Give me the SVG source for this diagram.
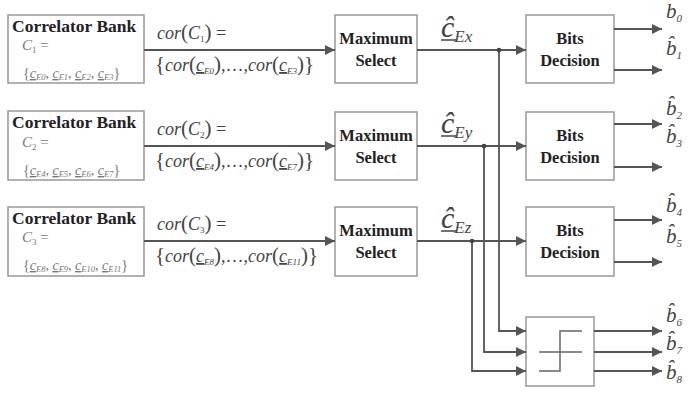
<svg xmlns="http://www.w3.org/2000/svg" width="690" height="406" viewBox="0 0 690 406">
<defs>
<style>
.box{fill:#fff;stroke:#999;stroke-width:1.5}
.ln{fill:none;stroke:#555;stroke-width:1.8}
text{font-family:'Liberation Serif','Times New Roman',serif}
.bold{font-weight:bold;fill:#222;font-size:16.5px}
.cb{font-size:17.5px}
.gray{fill:#777}
.it{font-style:italic}
.lbl{font-style:italic;fill:#444}
.dot{fill:#444}
</style>
<marker id="ah" viewBox="0 0 10 10" refX="10" refY="5" markerWidth="10" markerHeight="10" markerUnits="userSpaceOnUse" orient="auto">
<path d="M0,0 L10,5 L0,10 z" fill="#555"/>
</marker>
</defs>
<rect width="690" height="406" fill="#fff"/>

<g id="correlator1">
<rect class="box" x="8" y="15" width="136" height="68"/>
<text class="bold cb" x="12" y="32">Correlator Bank</text>
<text class="gray" x="22" y="50" font-size="15"><tspan class="it">C</tspan><tspan font-size="9" dy="3">1</tspan><tspan dy="-3"> =</tspan></text>
<text class="gray" x="23" y="78" font-size="14">{<tspan class="it" text-decoration="underline">c</tspan><tspan class="it" font-size="8.5" dy="2">E0</tspan><tspan dy="-2">, </tspan><tspan class="it" text-decoration="underline">c</tspan><tspan class="it" font-size="8.5" dy="2">E1</tspan><tspan dy="-2">, </tspan><tspan class="it" text-decoration="underline">c</tspan><tspan class="it" font-size="8.5" dy="2">E2</tspan><tspan dy="-2">, </tspan><tspan class="it" text-decoration="underline">c</tspan><tspan class="it" font-size="8.5" dy="2">E3</tspan><tspan dy="-2">}</tspan></text>
</g>
<g id="correlator2">
<rect class="box" x="8" y="111" width="136" height="69"/>
<text class="bold cb" x="12" y="128">Correlator Bank</text>
<text class="gray" x="22" y="147" font-size="15"><tspan class="it">C</tspan><tspan font-size="9" dy="3">2</tspan><tspan dy="-3"> =</tspan></text>
<text class="gray" x="23" y="175" font-size="14">{<tspan class="it" text-decoration="underline">c</tspan><tspan class="it" font-size="8.5" dy="2">E4</tspan><tspan dy="-2">, </tspan><tspan class="it" text-decoration="underline">c</tspan><tspan class="it" font-size="8.5" dy="2">E5</tspan><tspan dy="-2">, </tspan><tspan class="it" text-decoration="underline">c</tspan><tspan class="it" font-size="8.5" dy="2">E6</tspan><tspan dy="-2">, </tspan><tspan class="it" text-decoration="underline">c</tspan><tspan class="it" font-size="8.5" dy="2">E7</tspan><tspan dy="-2">}</tspan></text>
</g>
<g id="correlator3">
<rect class="box" x="8" y="207" width="136" height="69"/>
<text class="bold cb" x="12" y="224">Correlator Bank</text>
<text class="gray" x="22" y="242" font-size="15"><tspan class="it">C</tspan><tspan font-size="9" dy="3">3</tspan><tspan dy="-3"> =</tspan></text>
<text class="gray" x="23" y="270" font-size="14">{<tspan class="it" text-decoration="underline">c</tspan><tspan class="it" font-size="8.5" dy="2">E8</tspan><tspan dy="-2">, </tspan><tspan class="it" text-decoration="underline">c</tspan><tspan class="it" font-size="8.5" dy="2">E9</tspan><tspan dy="-2">, </tspan><tspan class="it" text-decoration="underline">c</tspan><tspan class="it" font-size="8.5" dy="2">E10</tspan><tspan dy="-2">, </tspan><tspan class="it" text-decoration="underline">c</tspan><tspan class="it" font-size="8.5" dy="2">E11</tspan><tspan dy="-2">}</tspan></text>
</g>

<g id="max1">
<rect class="box" x="335" y="15" width="82" height="68"/>
<text class="bold" x="376" y="44" text-anchor="middle">Maximum</text>
<text class="bold" x="376" y="66" text-anchor="middle">Select</text>
</g>
<g id="max2">
<rect class="box" x="335" y="112" width="82" height="68"/>
<text class="bold" x="376" y="141" text-anchor="middle">Maximum</text>
<text class="bold" x="376" y="163" text-anchor="middle">Select</text>
</g>
<g id="max3">
<rect class="box" x="335" y="207" width="82" height="69"/>
<text class="bold" x="376" y="236" text-anchor="middle">Maximum</text>
<text class="bold" x="376" y="258" text-anchor="middle">Select</text>
</g>

<g id="bits1">
<rect class="box" x="526" y="15" width="88" height="68"/>
<text class="bold" x="570" y="44" text-anchor="middle">Bits</text>
<text class="bold" x="570" y="66" text-anchor="middle">Decision</text>
</g>
<g id="bits2">
<rect class="box" x="526" y="112" width="88" height="68"/>
<text class="bold" x="570" y="141" text-anchor="middle">Bits</text>
<text class="bold" x="570" y="163" text-anchor="middle">Decision</text>
</g>
<g id="bits3">
<rect class="box" x="526" y="207" width="88" height="69"/>
<text class="bold" x="570" y="236" text-anchor="middle">Bits</text>
<text class="bold" x="570" y="258" text-anchor="middle">Decision</text>
</g>

<g id="threshold">
<rect class="box" x="526" y="317" width="68" height="69"/>
<path d="M582,331 H560 V371 H539 M539,352 H582" fill="none" stroke="#666" stroke-width="1.5"/>
</g>

<g id="connectors">
<line class="ln" x1="144" y1="50" x2="335" y2="50" marker-end="url(#ah)"/>
<line class="ln" x1="144" y1="146" x2="335" y2="146" marker-end="url(#ah)"/>
<line class="ln" x1="144" y1="241" x2="335" y2="241" marker-end="url(#ah)"/>
<line class="ln" x1="417" y1="50" x2="526" y2="50" marker-end="url(#ah)"/>
<line class="ln" x1="417" y1="146" x2="526" y2="146" marker-end="url(#ah)"/>
<line class="ln" x1="417" y1="241" x2="526" y2="241" marker-end="url(#ah)"/>
<path class="ln" d="M499,50 V331 H526" marker-end="url(#ah)"/>
<path class="ln" d="M484,146 V352 H526" marker-end="url(#ah)"/>
<path class="ln" d="M472,241 V371 H526" marker-end="url(#ah)"/>
<circle class="dot" cx="499" cy="50" r="2.3"/>
<circle class="dot" cx="484" cy="146" r="2.3"/>
<circle class="dot" cx="472" cy="241" r="2.3"/>
<line class="ln" x1="614" y1="29" x2="662" y2="29" marker-end="url(#ah)"/>
<line class="ln" x1="614" y1="70" x2="662" y2="70" marker-end="url(#ah)"/>
<line class="ln" x1="614" y1="124" x2="662" y2="124" marker-end="url(#ah)"/>
<line class="ln" x1="614" y1="167" x2="662" y2="167" marker-end="url(#ah)"/>
<line class="ln" x1="614" y1="220" x2="662" y2="220" marker-end="url(#ah)"/>
<line class="ln" x1="614" y1="262" x2="662" y2="262" marker-end="url(#ah)"/>
<line class="ln" x1="594" y1="331" x2="662" y2="331" marker-end="url(#ah)"/>
<line class="ln" x1="594" y1="352" x2="662" y2="352" marker-end="url(#ah)"/>
<line class="ln" x1="594" y1="371" x2="662" y2="371" marker-end="url(#ah)"/>
</g>

<g id="labels">
<text x="157" y="39" font-size="18" fill="#444"><tspan class="it">cor</tspan><tspan font-size="21">(</tspan><tspan class="it">C</tspan><tspan font-size="9" dy="3">1</tspan><tspan font-size="21" dy="-3">)</tspan> =</text>
<text x="155" y="71" font-size="18" fill="#444"><tspan font-size="21">{</tspan><tspan class="it">cor</tspan><tspan font-size="21">(</tspan><tspan class="it" text-decoration="underline">c</tspan><tspan class="it" font-size="9" dy="3">E0</tspan><tspan font-size="21" dy="-3">)</tspan>,…,<tspan class="it">cor</tspan><tspan font-size="21">(</tspan><tspan class="it" text-decoration="underline">c</tspan><tspan class="it" font-size="9" dy="3">E3</tspan><tspan font-size="21" dy="-3">)</tspan><tspan font-size="21">}</tspan></text>
<text x="157" y="135" font-size="18" fill="#444"><tspan class="it">cor</tspan><tspan font-size="21">(</tspan><tspan class="it">C</tspan><tspan font-size="9" dy="3">2</tspan><tspan font-size="21" dy="-3">)</tspan> =</text>
<text x="155" y="167" font-size="18" fill="#444"><tspan font-size="21">{</tspan><tspan class="it">cor</tspan><tspan font-size="21">(</tspan><tspan class="it" text-decoration="underline">c</tspan><tspan class="it" font-size="9" dy="3">E4</tspan><tspan font-size="21" dy="-3">)</tspan>,…,<tspan class="it">cor</tspan><tspan font-size="21">(</tspan><tspan class="it" text-decoration="underline">c</tspan><tspan class="it" font-size="9" dy="3">E7</tspan><tspan font-size="21" dy="-3">)</tspan><tspan font-size="21">}</tspan></text>
<text x="157" y="230" font-size="18" fill="#444"><tspan class="it">cor</tspan><tspan font-size="21">(</tspan><tspan class="it">C</tspan><tspan font-size="9" dy="3">3</tspan><tspan font-size="21" dy="-3">)</tspan> =</text>
<text x="155" y="262" font-size="18" fill="#444"><tspan font-size="21">{</tspan><tspan class="it">cor</tspan><tspan font-size="21">(</tspan><tspan class="it" text-decoration="underline">c</tspan><tspan class="it" font-size="9" dy="3">E8</tspan><tspan font-size="21" dy="-3">)</tspan>,…,<tspan class="it">cor</tspan><tspan font-size="21">(</tspan><tspan class="it" text-decoration="underline">c</tspan><tspan class="it" font-size="9" dy="3">E11</tspan><tspan font-size="21" dy="-3">)</tspan><tspan font-size="21">}</tspan></text>

<text class="lbl" x="441" y="37" font-size="30">ĉ<tspan font-size="17" dy="5">Ex</tspan></text>
<line x1="441" y1="40" x2="456" y2="40" stroke="#444" stroke-width="1.5"/>
<text class="lbl" x="441" y="133" font-size="30">ĉ<tspan font-size="17" dy="5">Ey</tspan></text>
<line x1="441" y1="136" x2="456" y2="136" stroke="#444" stroke-width="1.5"/>
<text class="lbl" x="441" y="228" font-size="30">ĉ<tspan font-size="17" dy="5">Ez</tspan></text>
<line x1="441" y1="231" x2="456" y2="231" stroke="#444" stroke-width="1.5"/>

<text class="lbl" x="666" y="18" font-size="21">b<tspan font-size="11" dy="4">0</tspan></text>
<text class="lbl" x="666" y="55" font-size="21">b̂<tspan font-size="11" dy="4">1</tspan></text>
<text class="lbl" x="666" y="115" font-size="21">b̂<tspan font-size="11" dy="4">2</tspan></text>
<text class="lbl" x="666" y="143" font-size="21">b̂<tspan font-size="11" dy="4">3</tspan></text>
<text class="lbl" x="666" y="212" font-size="21">b̂<tspan font-size="11" dy="4">4</tspan></text>
<text class="lbl" x="666" y="243" font-size="21">b̂<tspan font-size="11" dy="4">5</tspan></text>
<text class="lbl" x="666" y="322" font-size="21">b̂<tspan font-size="11" dy="4">6</tspan></text>
<text class="lbl" x="666" y="350" font-size="21">b̂<tspan font-size="11" dy="4">7</tspan></text>
<text class="lbl" x="666" y="379" font-size="21">b̂<tspan font-size="11" dy="4">8</tspan></text>
</g>
</svg>
